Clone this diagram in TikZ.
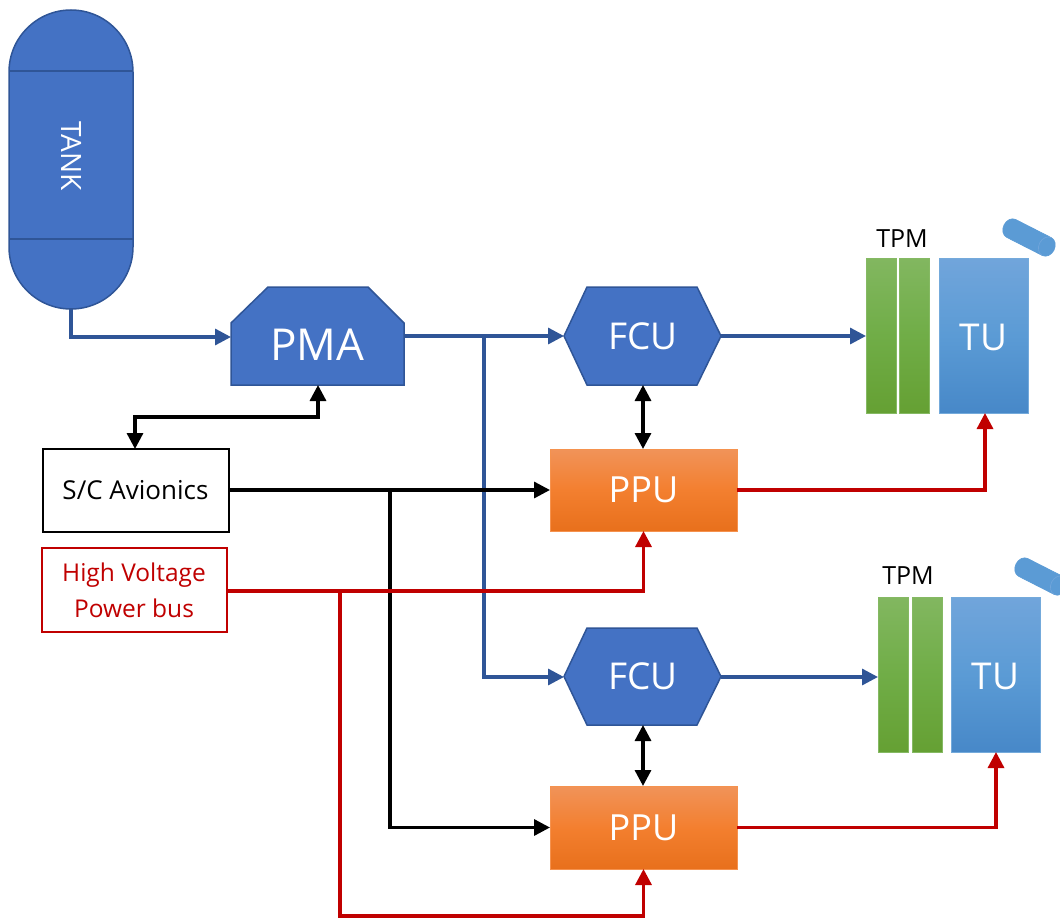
\documentclass[tikz,border=0pt]{standalone}
\usepackage{fontspec}
\setmainfont{Open Sans}
\usetikzlibrary{arrows.meta,calc}
\definecolor{bluefill}{HTML}{4472C4}
\definecolor{blueline}{HTML}{2F5597}
\definecolor{redline}{HTML}{C00000}
\tikzset{
  x=1pt,y=-1pt,
  fs/.style={font=\fontsize{#1}{#1}\selectfont},
  box/.style n args={2}{minimum width=#1,minimum height=#2,inner sep=0pt,outer sep=0pt,anchor=center},
  bluesolid/.style={fill=bluefill,draw=blueline,line width=1.5pt},
  tip/.style={-{Triangle[length=16pt,width=16pt]}},
  tips/.style={{Triangle[length=16pt,width=16pt]}-{Triangle[length=16pt,width=16pt]}},
  fuel/.style={draw=blueline,line width=3.3pt,tip,line join=miter},
  data/.style={draw=black,line width=3.3pt,line join=miter},
  power/.style={draw=redline,line width=3.3pt,tip,line join=miter},
  tpmbar/.style={shade,top color=tpmtop,bottom color=tpmbot,middle color=tpmmid,draw=tpmmid!85!white,line width=.6pt},
  tubody/.style={shade,top color=tutop,bottom color=tubot,middle color=tumid,draw=tumid!85!white,line width=.6pt,text=white,text height=30pt},
  ppubody/.style={shade,top color=pputop,bottom color=ppubot,middle color=ppumid,draw=ppumid!85!white,line width=.6pt,text=white},
  pill/.style={fill=tumid,draw=tumid,line width=.6pt},
  pillend/.style={draw=tutop,line width=.6pt},
}
\definecolor{tpmtop}{HTML}{82B760}
\definecolor{tpmmid}{HTML}{70AD47}
\definecolor{tpmbot}{HTML}{65A033}
\definecolor{tutop}{HTML}{71A5DB}
\definecolor{tumid}{HTML}{5B9BD5}
\definecolor{tubot}{HTML}{4788C8}
\definecolor{pputop}{HTML}{F19359}
\definecolor{ppumid}{HTML}{F37F2F}
\definecolor{ppubot}{HTML}{E8701C}
\begin{document}
\begin{tikzpicture}
\useasboundingbox (0,0) rectangle (1060,918);
\clip (0,0) rectangle (1060,918);
% tank
\path[bluesolid] (9,72) arc[start angle=180,end angle=0,x radius=62,y radius=-62] -- (133,247) arc[start angle=0,end angle=-180,x radius=62,y radius=-62] -- cycle;
\draw[blueline,line width=1.8pt] (9,71) -- (133,71) (9,239) -- (133,239);
\node[box={124}{299}] (tank) at (71,159.5) {};
\node[fs=28,text=white,rotate=-90,inner sep=0pt] (tanklabel) at (72,156) {TANK};
% PMA
\path[bluesolid] (231,323) -- (268,287) -- (368,287) -- (404,323) -- (404,385) -- (231,385) -- cycle;
\node[box={173}{98}] (pma) at (317.5,336) {};
\node[fs=44,text=white,inner sep=0pt] (pmalabel) at (317.5,345) {PMA};
% FCU
\path[bluesolid] (564,336) -- (587,287) -- (697,287) -- (721,336) -- (697,385) -- (587,385) -- cycle;
\node[box={157}{98},fs=37,text=white] (fcua) at (643,336) {FCU};
\path[bluesolid] (564,676.5) -- (587,628) -- (697,628) -- (721,676.5) -- (697,725) -- (587,725) -- cycle;
\node[box={157}{97},fs=37,text=white] (fcub) at (643,676.5) {FCU};
% PPU
\node[box={187}{82},ppubody,fs=36] (ppua) at (643.5,490) {PPU};
\node[box={187}{83},ppubody,fs=36] (ppub) at (643.5,827.5) {PPU};
% TPM + TU top
\node[box={30}{155},tpmbar] (tpma1) at (881,335.5) {};
\node[box={30}{155},tpmbar] (tpma2) at (914,335.5) {};
\node[box={89}{155},tubody,fs=37] (tua) at (983.5,335.5) {TU};
\node[fs=25,inner sep=0pt] (tpmla) at (902,239) {TPM};
\begin{scope}[shift={(1029,237.5)},rotate=-27]
  \path[pill] (-20,-10) -- (20,-10) arc[start angle=90,end angle=-90,x radius=8,y radius=-10] -- (-20,10) arc[start angle=270,end angle=90,x radius=8,y radius=-10] -- cycle;
  \draw[pillend] (20,-10) arc[start angle=90,end angle=270,x radius=8,y radius=-10];
\end{scope}
% TPM + TU bottom
\node[box={30}{155},tpmbar] (tpmb1) at (893,674.5) {};
\node[box={30}{155},tpmbar] (tpmb2) at (927,674.5) {};
\node[box={89}{155},tubody,fs=37] (tub) at (995.5,674.5) {TU};
\node[fs=25,inner sep=0pt] (tpmlb) at (908,576) {TPM};
\begin{scope}[shift={(1041,576.5)},rotate=-27]
  \path[pill] (-20,-10) -- (20,-10) arc[start angle=90,end angle=-90,x radius=8,y radius=-10] -- (-20,10) arc[start angle=270,end angle=90,x radius=8,y radius=-10] -- cycle;
  \draw[pillend] (20,-10) arc[start angle=90,end angle=270,x radius=8,y radius=-10];
\end{scope}
% side boxes
\node[box={186}{83},draw=black,line width=2pt,fs=26,fill=white] (avi) at (135.5,490) {S/C Avionics};
\node[box={185}{84},draw=redline,line width=2pt,fill=white] (hv) at (134,590) {};
\node[fs=24.5,text=redline,inner sep=0pt] (hv1) at (134,575) {High Voltage};
\node[fs=24.5,text=redline,inner sep=0pt] (hv2) at (134,608) {Power bus};
% junctions
\coordinate (jfuel) at (484,336);
\coordinate (jdata) at (390,490);
\coordinate (jpow) at (340,591);
\coordinate (lowpow) at (340,916);
\coordinate (pmafeed) at (231,337);
\coordinate (pmaout) at (404,336);
\coordinate (fcuaw) at (564,336);
\coordinate (fcubw) at (564,677);
\coordinate (hvout) at (227,591);
\coordinate (tpmain) at (866,336);
\coordinate (tpmbin) at (878,677);
\coordinate (fcuae) at (721,336);
\coordinate (fcube) at (721,677);
\coordinate (tuain) at (985,413);
\coordinate (tubin) at (996,752);
\coordinate (pmabot) at (318,385);
\coordinate (avitop) at (135,449);
% fuel
\draw[fuel] (71,309) |- (pmafeed);
\draw[fuel] (pmaout) -- (fcuaw);
\draw[fuel] (jfuel) |- (fcubw);
\draw[fuel] (fcuae) -- (tpmain);
\draw[fuel] (fcube) -- (tpmbin);
% data
\draw[data,tips] (pmabot) -- ++(0,32) -| (avitop);
\draw[data,tips] (fcua.south) -- (fcua.south |- ppua.north);
\draw[data,tips] (fcub.south) -- (fcub.south |- ppub.north);
\draw[data,tip] (avi.east) -- (ppua.west);
\draw[draw=black,line width=4.7pt] (avi.east) -- (jdata);
\draw[data,tip] (jdata) |- (ppub.west);
% power
\draw[power] (ppua.east) -| (tuain);
\draw[power] (ppub.east) -| (tubin);
\draw[power] (hvout) -| (ppua.south);
\draw[draw=redline,line width=4.7pt] (hvout) -- (jpow);
\draw[power] (jpow) -- (lowpow) -| (ppub.south);
\end{tikzpicture}
\end{document}
